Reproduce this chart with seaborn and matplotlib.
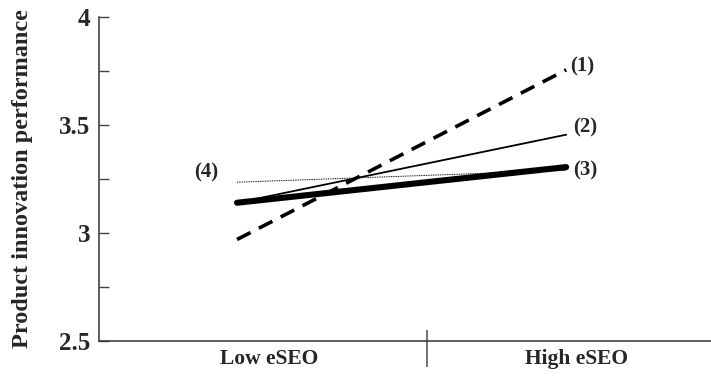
import matplotlib
matplotlib.use("Agg")
import matplotlib.pyplot as plt
from matplotlib.ticker import FixedLocator
import seaborn as sns
import pandas as pd

sns.set_style("white")
plt.rcParams['font.family'] = ['Liberation Serif', 'DejaVu Serif']
plt.rcParams['font.weight'] = 'bold'

levels = ["Low eSEO", "High eSEO"]
series_names = ["(1)", "(2)", "(3)", "(4)"]
low_values = [2.97, 3.14, 3.14, 3.235]
high_values = [3.755, 3.455, 3.305, 3.29]
y_ticks = [2.5, 3, 3.5, 4]
y_tick_labels = ["2.5", "3", "3.5", "4"]
y_label = "Product innovation performance"

rows = []
for name, lo, hi in zip(series_names, low_values, high_values):
    rows.append({"series": name, "x": 0.0, "y": lo})
    rows.append({"series": name, "x": 1.0, "y": hi})
df = pd.DataFrame(rows)

styles = {
    "(1)": dict(lw=2.6, ls=(0, (4.2, 2.6))),
    "(2)": dict(lw=1.3, ls="-"),
    "(3)": dict(lw=4.4, ls="-"),
    "(4)": dict(lw=0.7, ls=(0, (1, 0.8))),
}

fig = plt.figure(figsize=(7.11, 3.76), dpi=100)
ax = fig.add_axes([0.139, 0.093, 0.861, 0.862])

for name in series_names:
    sub = df[df.series == name]
    st = styles[name]
    sns.lineplot(data=sub, x="x", y="y", ax=ax, color="black",
                 linewidth=st["lw"], linestyle=st["ls"], legend=False)

ax.set_xlim(-0.42, 1.44)
ax.set_ylim(2.5, 4.0)

# series labels
label_pos = {"(1)": (1.05, 3.77), "(2)": (1.058, 3.49), "(3)": (1.058, 3.29), "(4)": (-0.094, 3.278)}
for name in series_names:
    x, y = label_pos[name]
    ax.text(x, y, name, fontsize=15, fontweight="bold", ha="center", va="center")

ax.set_yticks(y_ticks)
ax.set_yticklabels(y_tick_labels, fontsize=18, fontweight="bold")
ax.yaxis.set_minor_locator(FixedLocator([2.75, 3.25, 3.75]))
ax.tick_params(axis="y", which="major", direction="in", length=7, width=1, color="#444444", pad=6, left=True)
ax.tick_params(axis="y", which="minor", direction="in", length=7, width=1, color="#444444", left=True)

ax.set_xticks([0.097, 1.03])
ax.set_xticklabels(levels, fontsize=15.5, fontweight="bold")
ax.xaxis.set_minor_locator(FixedLocator([0.578]))
ax.tick_params(axis="x", which="major", length=0, pad=6)
ax.tick_params(axis="x", which="minor", direction="out", length=19, width=1.3, color="#666666", bottom=True)

sec = ax.secondary_xaxis("bottom")
sec.set_xticks([0.578])
sec.set_xticklabels([""])
sec.tick_params(axis="x", direction="in", length=8, width=1.3, color="#666666")
sec.spines["bottom"].set_visible(False)

ax.set_xlabel("")
ax.set_ylabel(y_label, fontsize=17.5, fontweight="bold", labelpad=19)

for s in ["top", "right"]:
    ax.spines[s].set_visible(False)
for s in ["left", "bottom"]:
    ax.spines[s].set_color("#333333")
    ax.spines[s].set_linewidth(1.1)

fig.savefig("out.png", dpi=100)
